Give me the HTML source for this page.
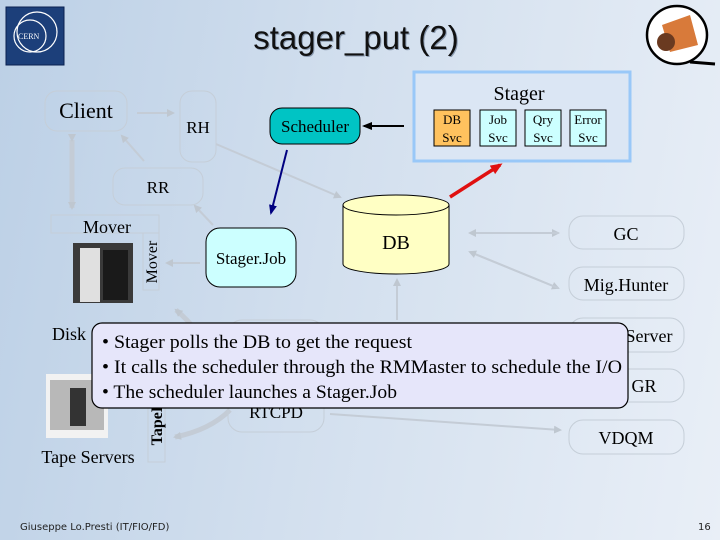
<!DOCTYPE html>
<html><head><style>
html,body{margin:0;padding:0}
body{width:720px;height:540px;overflow:hidden;background:linear-gradient(100deg,#bcd0e6 0%,#d2dfee 45%,#e9eff7 100%);position:relative}
svg{position:absolute;left:0;top:0}
text{font-family:"Liberation Serif",serif}
</style></head><body>
<svg width="720" height="540" viewBox="0 0 720 540">
<defs>
<marker id="ga" markerWidth="8" markerHeight="8" refX="6" refY="4" orient="auto" markerUnits="userSpaceOnUse"><path d="M0,0 L8,4 L0,8 z" fill="#bfc7d0"/></marker>
<marker id="ba" markerWidth="10" markerHeight="10" refX="8" refY="5" orient="auto" markerUnits="userSpaceOnUse"><path d="M0,1 L10,5 L0,9 z" fill="#000"/></marker>
<marker id="na" markerWidth="10" markerHeight="10" refX="8" refY="5" orient="auto" markerUnits="userSpaceOnUse"><path d="M0,1 L10,5 L0,9 z" fill="#000080"/></marker>
<marker id="ra" markerWidth="12" markerHeight="12" refX="9" refY="6" orient="auto" markerUnits="userSpaceOnUse"><path d="M0,1 L12,6 L0,11 z" fill="#e01010"/></marker>
</defs>
<rect x="6" y="7" width="58" height="58" fill="#1c3f7a" stroke="#0a2050"/>
<circle cx="30" cy="36" r="16" fill="none" stroke="#fff" stroke-width="1.2"/>
<circle cx="37" cy="32" r="20" fill="none" stroke="#fff" stroke-width="1.2"/>
<text x="18" y="39" font-size="8" fill="#fff">CERN</text>
<ellipse cx="677" cy="35" rx="30" ry="29" fill="#fff" stroke="#000" stroke-width="2.5"/>
<path d="M690 62 L715 64" stroke="#000" stroke-width="3"/>
<path d="M662 25 L690 15 L698 45 L670 52 z" fill="#d87a3a"/>
<circle cx="666" cy="42" r="9" fill="#6a3a20"/>
<text x="357" y="50" font-size="33" text-anchor="middle" fill="#8a9ab0" style="font-family:'Liberation Sans',sans-serif">stager_put (2)</text>
<text x="356" y="49" font-size="33" text-anchor="middle" fill="#111" style="font-family:'Liberation Sans',sans-serif">stager_put (2)</text>
<g stroke="#c4ccd6" stroke-width="2" fill="none">
<line x1="137" y1="113" x2="173" y2="113" marker-end="url(#ga)"/>
<line x1="144" y1="161" x2="122" y2="136" marker-end="url(#ga)"/>
<line x1="216" y1="144" x2="340" y2="197" marker-end="url(#ga)"/>
<line x1="213" y1="225" x2="195" y2="206" marker-end="url(#ga)"/>
<line x1="200" y1="263" x2="167" y2="263" marker-end="url(#ga)"/>
<line x1="470" y1="233" x2="558" y2="233" marker-end="url(#ga)"/><line x1="558" y1="233" x2="470" y2="233" marker-end="url(#ga)"/>
<line x1="470" y1="252" x2="558" y2="288" marker-end="url(#ga)"/><line x1="558" y1="288" x2="470" y2="252" marker-end="url(#ga)"/>
<line x1="397" y1="320" x2="397" y2="280" marker-end="url(#ga)"/>
<line x1="330" y1="414" x2="560" y2="430" marker-end="url(#ga)"/>
</g>
<path d="M72 140 V208" stroke="#c4ccd6" stroke-width="5" marker-end="url(#ga)" marker-start="url(#ga)"/>
<path d="M230 410 Q210 430 175 437" stroke="#c4ccd6" stroke-width="5" fill="none" marker-end="url(#ga)"/>
<path d="M210 355 Q200 330 176 310" stroke="#c4ccd6" stroke-width="5" fill="none" marker-end="url(#ga)"/>
<g fill="none" stroke="#c5ced8" stroke-width="1">
<rect x="45" y="91" width="82" height="40" rx="12"/>
<rect x="180" y="91" width="36" height="71" rx="12"/>
<rect x="113" y="168" width="90" height="37" rx="12"/>
<rect x="51" y="215" width="108" height="18"/>
<rect x="143" y="233" width="16" height="57"/>
<rect x="148" y="385" width="17" height="77"/>
<rect x="228" y="320" width="96" height="112" rx="14"/>
<rect x="569" y="216" width="115" height="33" rx="14"/>
<rect x="569" y="267" width="115" height="33" rx="14"/>
<rect x="569" y="318" width="115" height="34" rx="14"/>
<rect x="569" y="369" width="115" height="33" rx="14"/>
<rect x="569" y="420" width="115" height="34" rx="14"/>
</g>
<text x="86" y="118" font-size="22" text-anchor="middle">Client</text>
<text x="198" y="133" font-size="17" text-anchor="middle">RH</text>
<text x="158" y="193" font-size="17" text-anchor="middle">RR</text>
<text x="107" y="233" font-size="18" text-anchor="middle">Mover</text>
<text transform="translate(157,262) rotate(-90)" font-size="16" text-anchor="middle">Mover</text>
<text transform="translate(162,423) rotate(-90)" font-size="16" text-anchor="middle" font-weight="bold">TapeD</text>
<text x="276" y="418" font-size="17" text-anchor="middle">RTCPD</text>
<text x="626" y="240" font-size="18" text-anchor="middle">GC</text>
<text x="626" y="291" font-size="18" text-anchor="middle">Mig.Hunter</text>
<text x="649" y="342" font-size="18" text-anchor="middle">Server</text>
<text x="644" y="392" font-size="18" text-anchor="middle">GR</text>
<text x="626" y="444" font-size="18" text-anchor="middle">VDQM</text>
<text x="52" y="340" font-size="18">Disk</text>
<text x="88" y="463" font-size="18" text-anchor="middle">Tape Servers</text>
<rect x="73" y="243" width="60" height="60" fill="#3a3a3a"/>
<rect x="80" y="248" width="20" height="54" fill="#e0e0e0"/>
<rect x="103" y="250" width="25" height="50" fill="#1a1a1a"/>
<rect x="46" y="374" width="62" height="64" fill="#f2f2f2"/>
<rect x="50" y="380" width="54" height="50" fill="#b8b8b8"/>
<rect x="70" y="388" width="16" height="38" fill="#333"/>
<rect x="206" y="228" width="90" height="59" rx="14" fill="#ccffff" stroke="#000"/>
<text x="251" y="264" font-size="17" text-anchor="middle">Stager.Job</text>
<rect x="270" y="108" width="90" height="36" rx="12" fill="#00c4c4" stroke="#000"/>
<text x="315" y="132" font-size="17" text-anchor="middle">Scheduler</text>
<line x1="287" y1="150" x2="271" y2="213" stroke="#000080" stroke-width="2" marker-end="url(#na)"/>
<line x1="404" y1="126" x2="364" y2="126" stroke="#000" stroke-width="2" marker-end="url(#ba)"/>
<path d="M343 205 V264 A53 10 0 0 0 449 264 V205" fill="#ffffc4" stroke="#000"/>
<ellipse cx="396" cy="205" rx="53" ry="10" fill="#ffffc4" stroke="#000"/>
<text x="396" y="249" font-size="20" text-anchor="middle">DB</text>
<rect x="414" y="72" width="216" height="89" fill="#dbe6f4" stroke="#99c8f8" stroke-width="3"/>
<text x="519" y="100" font-size="20" text-anchor="middle">Stager</text>
<g stroke="#000" stroke-width="1">
<rect x="434" y="110" width="36" height="36" fill="#ffc25e"/>
<rect x="480" y="110" width="36" height="36" fill="#ccffff"/>
<rect x="525" y="110" width="36" height="36" fill="#ccffff"/>
<rect x="570" y="110" width="36" height="36" fill="#ccffff"/>
</g>
<g font-size="13" text-anchor="middle">
<text x="452" y="124">DB</text><text x="452" y="142">Svc</text>
<text x="498" y="124">Job</text><text x="498" y="142">Svc</text>
<text x="543" y="124">Qry</text><text x="543" y="142">Svc</text>
<text x="588" y="124">Error</text><text x="588" y="142">Svc</text>
</g>
<line x1="450" y1="197" x2="500" y2="165" stroke="#e01010" stroke-width="3.5" marker-end="url(#ra)"/>
<rect x="92" y="323" width="536" height="85" rx="10" fill="#e6e6fa" stroke="#000" stroke-width="1.2"/>
<g font-size="19">
<text x="102" y="348" textLength="310" lengthAdjust="spacingAndGlyphs">• Stager polls the DB to get the request</text>
<text x="102" y="373" textLength="520" lengthAdjust="spacingAndGlyphs">• It calls the scheduler through the RMMaster to schedule the I/O</text>
<text x="102" y="398" textLength="295" lengthAdjust="spacingAndGlyphs">• The scheduler launches a Stager.Job</text>
</g>
<text x="20" y="530" font-size="10" style="font-family:'DejaVu Sans',sans-serif" fill="#222">Giuseppe Lo.Presti (IT/FIO/FD)</text>
<text x="698" y="530" font-size="10" style="font-family:'DejaVu Sans',sans-serif" fill="#222">16</text>
</svg>
</body></html>
